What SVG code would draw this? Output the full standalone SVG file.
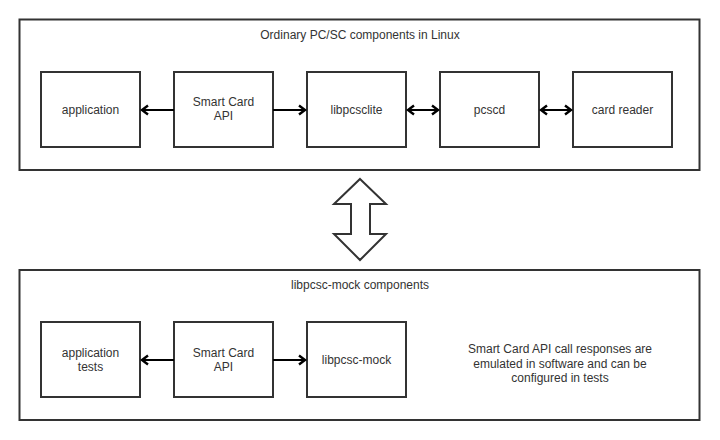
<svg xmlns="http://www.w3.org/2000/svg" width="720" height="440" viewBox="0 0 720 440">
<defs>
<style>
.frame{fill:#fff;stroke:#333;stroke-width:2}
.node{fill:#fff;stroke:#333;stroke-width:2}
.t{font-family:"Liberation Sans",Arial,sans-serif;font-size:12px;fill:#333;text-anchor:middle}
.edge{stroke:#000;stroke-width:2;fill:none}
</style>
<marker id="ah" viewBox="0 0 12 12" refX="10" refY="6" markerWidth="12" markerHeight="12" markerUnits="userSpaceOnUse" orient="auto-start-reverse">
<path d="M4,1.5 L10,6 L4,10.5" fill="none" stroke="#000" stroke-width="2.4"/>
</marker>
</defs>
<rect width="720" height="440" fill="#fff"/>
<g id="linux-frame">
<rect class="frame" x="19.5" y="19.5" width="680" height="150.5"/>
<text class="t" x="360" y="39">Ordinary PC/SC components in Linux</text>
</g>
<g id="mock-frame">
<rect class="frame" x="19.5" y="270" width="680" height="150"/>
<text class="t" x="360" y="289">libpcsc-mock components</text>
</g>
<g id="application"><rect class="node" x="41" y="72" width="99" height="75"/><text class="t" x="90.5" y="114">application</text></g>
<g id="smartcard-api"><rect class="node" x="174" y="72" width="99" height="75"/><text class="t" x="223.5" y="106">Smart Card</text><text class="t" x="223.5" y="120">API</text></g>
<g id="libpcsclite"><rect class="node" x="307" y="72" width="99" height="75"/><text class="t" x="356.5" y="114">libpcsclite</text></g>
<g id="pcscd"><rect class="node" x="440" y="72" width="99" height="75"/><text class="t" x="489.5" y="114">pcscd</text></g>
<g id="card-reader"><rect class="node" x="573" y="72" width="99" height="75"/><text class="t" x="622.5" y="114">card reader</text></g>
<g id="application-tests"><rect class="node" x="41" y="322" width="99" height="75"/><text class="t" x="90.5" y="357">application</text><text class="t" x="90.5" y="371">tests</text></g>
<g id="smartcard-api-2"><rect class="node" x="174" y="322" width="99" height="75"/><text class="t" x="223.5" y="357">Smart Card</text><text class="t" x="223.5" y="371">API</text></g>
<g id="libpcsc-mock"><rect class="node" x="307" y="322" width="99" height="75"/><text class="t" x="356.5" y="364">libpcsc-mock</text></g>
<g id="note">
<text class="t" x="560" y="353">Smart Card API call responses are</text>
<text class="t" x="560" y="368">emulated in software and can be</text>
<text class="t" x="560" y="382">configured in tests</text>
</g>
<g id="big-arrow">
<path d="M360,179 L386,204 L370,204 L370,234 L386,234 L360,260 L334,234 L351,234 L351,204 L334,204 Z" fill="#fff" stroke="#333" stroke-width="2" stroke-linejoin="miter"/>
</g>
<g id="connectors">
<line class="edge" x1="174" y1="110" x2="142" y2="110" marker-end="url(#ah)"/>
<line class="edge" x1="273" y1="110" x2="305" y2="110" marker-end="url(#ah)"/>
<line class="edge" x1="408" y1="110" x2="438" y2="110" marker-start="url(#ah)" marker-end="url(#ah)"/>
<line class="edge" x1="541" y1="110" x2="571" y2="110" marker-start="url(#ah)" marker-end="url(#ah)"/>
<line class="edge" x1="174" y1="360" x2="142" y2="360" marker-end="url(#ah)"/>
<line class="edge" x1="273" y1="360" x2="305" y2="360" marker-end="url(#ah)"/>
</g>
</svg>
